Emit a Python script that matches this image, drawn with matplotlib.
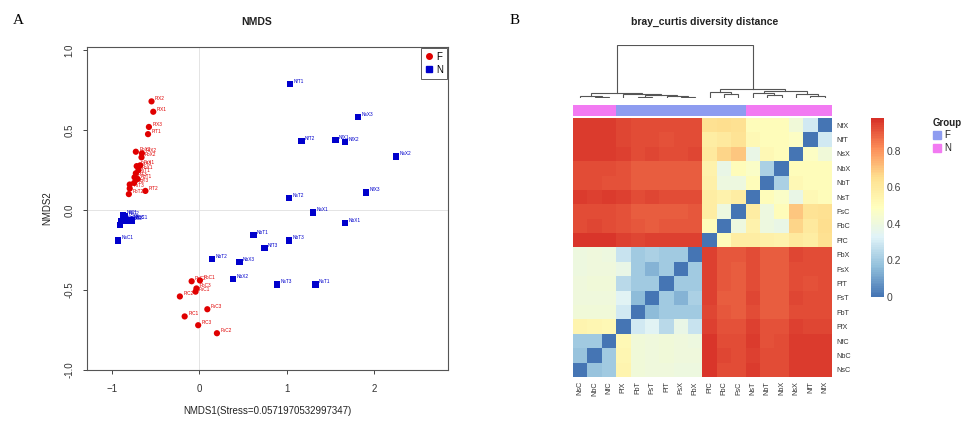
import numpy as np
import matplotlib
matplotlib.use("Agg")
import matplotlib.pyplot as plt
from matplotlib.colors import LinearSegmentedColormap, ListedColormap
from matplotlib.lines import Line2D

plt.rcParams['font.family'] = ['Liberation Sans', 'DejaVu Sans']

# ---------------- NMDS data ----------------
F_names = ["FfX2", "FfX1", "FfX3", "FfT1", "FbX3", "FsX2", "FbX2", "FsX3", "FsX1", "FbX1",
           "FsT1", "FfT3", "FbT1", "FbT3", "FsT2", "FsT3", "FbT2", "FfT2",
           "FbC2", "FbC1", "FbC3", "FsC1", "FfC2", "FsC3", "FfC1", "FfC3", "FsC2"]
F_x = [-0.55, -0.53, -0.58, -0.59, -0.73, -0.66, -0.665, -0.72, -0.68, -0.70,
       -0.73, -0.745, -0.71, -0.75, -0.80, -0.80, -0.81, -0.62,
       -0.09, 0.005, -0.035, -0.045, -0.225, 0.09, -0.17, -0.015, 0.20]
F_y = [0.68, 0.615, 0.52, 0.475, 0.365, 0.355, 0.33, 0.275, 0.28, 0.25,
       0.23, 0.205, 0.195, 0.17, 0.16, 0.135, 0.10, 0.12,
       -0.445, -0.44, -0.49, -0.51, -0.54, -0.62, -0.665, -0.72, -0.77]

N_names = ["NfC1", "NfC2", "NfC3", "NbC1", "NbC2", "NbC3", "NsC2", "NsC3", "NsC1",
           "NfT1", "NsX3", "NfT2", "NfX1", "NfX2", "NsX2", "NfX3", "NsT2", "NsX1",
           "NbX1", "NbT1", "NbT3", "NfT3", "NbT2", "NbX3", "NbX2", "NsT3", "NsT1"]
N_x = [-0.88, -0.85, -0.80, -0.77, -0.90, -0.87, -0.83, -0.91, -0.935,
       1.04, 1.82, 1.17, 1.56, 1.67, 2.25, 1.91, 1.03, 1.30,
       1.67, 0.62, 1.03, 0.745, 0.145, 0.46, 0.385, 0.885, 1.33]
N_y = [-0.03, -0.04, -0.06, -0.065, -0.07, -0.06, -0.07, -0.095, -0.19,
       0.79, 0.58, 0.43, 0.44, 0.425, 0.335, 0.11, 0.075, -0.015,
       -0.08, -0.155, -0.19, -0.235, -0.305, -0.325, -0.43, -0.465, -0.465]

stress_label = "NMDS1(Stress=0.0571970532997347)"

# ---------------- Heatmap data ----------------
row_labels = ["NfX", "NfT", "NsX", "NbX", "NbT", "NsT", "FsC", "FbC", "FfC",
              "FbX", "FsX", "FfT", "FsT", "FbT", "FfX", "NfC", "NbC", "NsC"]
# symmetric bray-curtis distances, rows/cols both in row_labels order
D = [
 [0.00, 0.30, 0.42, 0.50, 0.50, 0.50, 0.64, 0.65, 0.64, 0.93, 0.93, 0.93, 0.93, 0.93, 0.94, 0.96, 0.96, 0.96],
 [0.30, 0.00, 0.48, 0.50, 0.50, 0.52, 0.63, 0.60, 0.58, 0.93, 0.93, 0.92, 0.93, 0.93, 0.94, 0.96, 0.96, 0.96],
 [0.42, 0.48, 0.00, 0.50, 0.52, 0.38, 0.70, 0.67, 0.60, 0.94, 0.93, 0.93, 0.94, 0.93, 0.95, 0.96, 0.96, 0.96],
 [0.50, 0.50, 0.50, 0.00, 0.22, 0.47, 0.50, 0.38, 0.55, 0.90, 0.90, 0.90, 0.90, 0.90, 0.92, 0.93, 0.93, 0.93],
 [0.50, 0.50, 0.52, 0.22, 0.00, 0.50, 0.40, 0.40, 0.56, 0.90, 0.90, 0.90, 0.90, 0.90, 0.92, 0.92, 0.93, 0.93],
 [0.50, 0.52, 0.38, 0.47, 0.50, 0.00, 0.58, 0.55, 0.58, 0.93, 0.93, 0.93, 0.94, 0.93, 0.95, 0.96, 0.95, 0.96],
 [0.64, 0.63, 0.70, 0.50, 0.40, 0.58, 0.00, 0.40, 0.58, 0.91, 0.90, 0.90, 0.90, 0.90, 0.92, 0.93, 0.93, 0.93],
 [0.65, 0.60, 0.67, 0.38, 0.40, 0.55, 0.40, 0.00, 0.50, 0.91, 0.91, 0.91, 0.90, 0.91, 0.92, 0.93, 0.94, 0.93],
 [0.64, 0.58, 0.60, 0.55, 0.56, 0.58, 0.58, 0.50, 0.00, 0.95, 0.95, 0.95, 0.95, 0.94, 0.95, 0.97, 0.97, 0.97],
 [0.93, 0.93, 0.94, 0.90, 0.90, 0.93, 0.91, 0.91, 0.95, 0.00, 0.20, 0.20, 0.22, 0.20, 0.28, 0.40, 0.41, 0.40],
 [0.93, 0.93, 0.93, 0.90, 0.90, 0.93, 0.90, 0.91, 0.95, 0.20, 0.00, 0.20, 0.14, 0.20, 0.38, 0.41, 0.41, 0.40],
 [0.93, 0.92, 0.93, 0.90, 0.90, 0.93, 0.90, 0.91, 0.95, 0.20, 0.20, 0.00, 0.20, 0.20, 0.25, 0.42, 0.42, 0.41],
 [0.93, 0.93, 0.94, 0.90, 0.90, 0.94, 0.90, 0.90, 0.95, 0.22, 0.14, 0.20, 0.00, 0.16, 0.34, 0.41, 0.41, 0.41],
 [0.93, 0.93, 0.93, 0.90, 0.90, 0.93, 0.90, 0.91, 0.94, 0.20, 0.20, 0.20, 0.16, 0.00, 0.30, 0.42, 0.42, 0.42],
 [0.94, 0.94, 0.95, 0.92, 0.92, 0.95, 0.92, 0.92, 0.95, 0.28, 0.38, 0.25, 0.34, 0.30, 0.00, 0.52, 0.53, 0.54],
 [0.96, 0.96, 0.96, 0.93, 0.92, 0.96, 0.93, 0.93, 0.97, 0.40, 0.41, 0.42, 0.41, 0.42, 0.52, 0.00, 0.20, 0.20],
 [0.96, 0.96, 0.96, 0.93, 0.93, 0.95, 0.93, 0.94, 0.97, 0.41, 0.41, 0.42, 0.41, 0.42, 0.53, 0.20, 0.00, 0.18],
 [0.96, 0.96, 0.96, 0.93, 0.93, 0.96, 0.93, 0.93, 0.97, 0.40, 0.40, 0.41, 0.41, 0.42, 0.54, 0.20, 0.18, 0.00],
]
col_labels = row_labels[::-1]

# dendrogram merges (left, right, height); ints refer to earlier merges
dendro_merges = [
    ("NbC", "NfC", 0.07),   # 0
    ("NsC", 0, 0.10),       # 1
    ("FbT", "FsT", 0.06),   # 2
    ("FsX", "FbX", 0.05),   # 3
    ("FfT", 3, 0.09),       # 4
    (2, 4, 0.12),           # 5
    ("FfX", 5, 0.19),       # 6
    (1, 6, 0.24),           # 7
    ("FbC", "FsC", 0.19),   # 8
    ("FfC", 8, 0.28),       # 9
    ("NbT", "NbX", 0.14),   # 10
    ("NsT", 10, 0.24),      # 11
    ("NfT", "NfX", 0.10),   # 12
    ("NsX", 12, 0.19),      # 13
    (11, 13, 0.34),         # 14
    (9, 14, 0.42),          # 15
    (7, 15, 2.50),          # 16
]

group_colors = {"F": "#8E9CF0", "N": "#F27AF2"}

# ---------------- Figure ----------------
W, H = 974, 421
fig = plt.figure(figsize=(W / 100, H / 100), dpi=100)

def rect(x0, y0, x1, y1):
    return [x0 / W, 1 - y1 / H, (x1 - x0) / W, (y1 - y0) / H]

# ---- Panel A: NMDS ----
ax = fig.add_axes(rect(87, 47, 448, 370))
ax.axhline(0, color="#E4E4E4", lw=0.7, zorder=0)
ax.axvline(0, color="#E4E4E4", lw=0.7, zorder=0)
red, blue = "#E00000", "#0000CC"
ax.scatter(F_x, F_y, s=20, marker="o", color=red, edgecolors="none", zorder=3)
ax.scatter(N_x, N_y, s=20, marker="s", color=blue, edgecolors="none", zorder=3)
for nm, x, y in zip(F_names, F_x, F_y):
    ax.annotate(nm, (x, y), xytext=(2.5, 0.8), textcoords="offset points",
                fontsize=3.4, color=red, zorder=4)
for nm, x, y in zip(N_names, N_x, N_y):
    ax.annotate(nm, (x, y), xytext=(2.5, 0.8), textcoords="offset points",
                fontsize=3.4, color=blue, zorder=4)
ax.set_xlim(-1.29, 2.85)
ax.set_ylim(-1.0, 1.02)
ax.set_xticks([-1, 0, 1, 2])
ax.set_yticks([-1.0, -0.5, 0.0, 0.5, 1.0])
ax.set_yticklabels(["-1.0", "-0.5", "0.0", "0.5", "1.0"], rotation=90, va="center")
ax.tick_params(labelsize=7, length=3, width=0.7, color="#444", labelcolor="#333")
ax.tick_params(axis="x", pad=7)
ax.tick_params(axis="y", pad=6)
for s in ax.spines.values():
    s.set_color("#555")
    s.set_linewidth(0.8)
ax.set_xlabel(stress_label, fontsize=7, color="#222", labelpad=9)
ax.set_ylabel("NMDS2", fontsize=7, color="#222", labelpad=9)
fig.text(257 / W, 1 - 22 / H, "NMDS", fontsize=7.5, fontweight="bold",
         ha="center", va="center", color="#222")
# legend
handles = [Line2D([], [], marker="o", ls="none", color=red, markersize=4),
           Line2D([], [], marker="s", ls="none", color=blue, markersize=4)]
leg = ax.legend(handles, ["F", "N"], loc="upper right", fontsize=7, frameon=True,
                fancybox=False, borderpad=0.4, handletextpad=0.2, handlelength=1.0,
                borderaxespad=0.1, labelspacing=0.3)
leg.get_frame().set_edgecolor("#333")
leg.get_frame().set_linewidth(0.7)

fig.text(18 / W, 1 - 20 / H, "A", fontsize=11, family="Liberation Serif",
         ha="center", va="center")
fig.text(515 / W, 1 - 20 / H, "B", fontsize=11, family="Liberation Serif",
         ha="center", va="center")

# ---- Panel B: heatmap ----
Dm = np.array(D)
cmap = LinearSegmentedColormap.from_list(
    "rdylbu", ["#4575B4", "#91BFDB", "#E0F3F8", "#FFFFBF", "#FEE090", "#FC8D59", "#D73027"], N=100)
axh = fig.add_axes(rect(573, 118, 832, 377))
im = axh.imshow(Dm[:, ::-1], cmap=cmap, vmin=0, vmax=0.98, aspect="auto",
                interpolation="nearest")
axh.set_xticks(range(len(col_labels)))
axh.set_xticklabels(col_labels, rotation=90, fontsize=5.2, color="#333")
axh.set_yticks(range(len(row_labels)))
axh.set_yticklabels(row_labels, fontsize=5.2, color="#333")
axh.yaxis.tick_right()
axh.tick_params(length=0, pad=3)
for s in axh.spines.values():
    s.set_visible(False)

# group bar
axg = fig.add_axes(rect(573, 105, 832, 116))
gcodes = [0 if c[0] == "F" else 1 for c in col_labels]
axg.imshow(np.array([gcodes]), cmap=ListedColormap([group_colors["F"], group_colors["N"]]),
           vmin=0, vmax=1, aspect="auto", interpolation="nearest")
axg.axis("off")

# dendrogram
axd = fig.add_axes(rect(573, 45, 832, 98))
pos = {name: i for i, name in enumerate(col_labels)}
nodes = {}
def getnode(n):
    if isinstance(n, str):
        return pos[n], 0.0
    return nodes[n]
for k, (a, b, h) in enumerate(dendro_merges):
    xa, ha = getnode(a)
    xb, hb = getnode(b)
    axd.plot([xa, xa, xb, xb], [ha, h, h, hb], color="#555", lw=0.8,
             solid_joinstyle="miter")
    nodes[k] = ((xa + xb) / 2, h)
axd.set_xlim(-0.5, len(col_labels) - 0.5)
axd.set_ylim(0, 2.5)
axd.axis("off")

fig.text(705 / W, 1 - 22 / H, "bray_curtis diversity distance", fontsize=7.5,
         fontweight="bold", ha="center", va="center", color="#222")

# colorbar
axc = fig.add_axes(rect(871, 118, 884, 297))
cb = fig.colorbar(im, cax=axc, ticks=[0, 0.2, 0.4, 0.6, 0.8])
cb.ax.set_yticklabels(["0", "0.2", "0.4", "0.6", "0.8"])
cb.outline.set_visible(False)
cb.ax.tick_params(length=0, labelsize=7.5, labelcolor="#444", pad=2)

# group legend
fig.text(933 / W, 1 - 123 / H, "Group", fontsize=7, fontweight="bold",
         ha="left", va="center", color="#222")
for i, g in enumerate(["F", "N"]):
    yc = 135 + 13 * i
    fig.patches.append(plt.Rectangle((933 / W, 1 - (yc + 4) / H), 8 / W, 8 / H,
                                     transform=fig.transFigure, color=group_colors[g]))
    fig.text(944 / W, 1 - yc / H, g, fontsize=7, ha="left", va="center", color="#222")

fig.savefig("out.png", dpi=100)
